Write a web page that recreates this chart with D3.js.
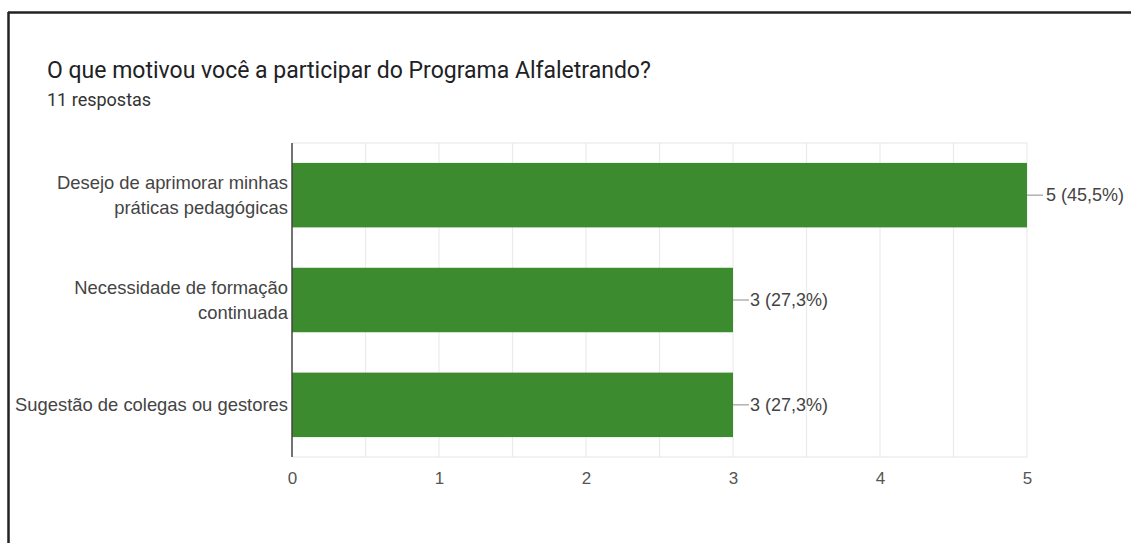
<!DOCTYPE html>
<html>
<head>
<meta charset="utf-8">
<script src="https://cdn.jsdelivr.net/npm/d3@7"></script>
<style>
  html, body { margin: 0; padding: 0; background: #fff; }
  svg { display: block; font-family: "Liberation Sans", Arial, sans-serif; }
</style>
</head>
<body>
<div id="chart"></div>
<script>
const title = 'O que motivou você a participar do Programa Alfaletrando?';
const subtitle = '11 respostas';
const categories = [
  ['Desejo de aprimorar minhas', 'práticas pedagógicas'],
  ['Necessidade de formação', 'continuada'],
  ['Sugestão de colegas ou gestores']
];
const counts = [5, 3, 3];
const valueLabels = ['5 (45,5%)', '3 (27,3%)', '3 (27,3%)'];
const xTicks = [0, 1, 2, 3, 4, 5];

const W = 1131, H = 543;
const margin = { top: 143, right: 104, bottom: 86, left: 292 };
const iw = W - margin.left - margin.right;
const ih = H - margin.top - margin.bottom;

const svg = d3.select('#chart').append('svg')
  .attr('width', W).attr('height', H);

// frame lines (screenshot border)
svg.append('line').attr('x1', 8).attr('x2', W).attr('y1', 12.5).attr('y2', 12.5)
  .attr('stroke', '#222').attr('stroke-width', 2.5);
svg.append('line').attr('x1', 8.5).attr('x2', 8.5).attr('y1', 12).attr('y2', H)
  .attr('stroke', '#222').attr('stroke-width', 2.5);

svg.append('text').attr('x', 47).attr('y', 78)
  .attr('font-family', 'Roboto, Arial, sans-serif')
  .attr('font-size', '23px').attr('fill', '#202124').text(title);
svg.append('text').attr('x', 47).attr('y', 106)
  .attr('font-family', 'Roboto, Arial, sans-serif')
  .attr('font-size', '18px').attr('fill', '#333').text(subtitle);

const x = d3.scaleLinear().domain([0, 5]).range([0, iw]);
const y = d3.scaleBand().domain(d3.range(categories.length)).range([0, ih])
  .paddingInner(0.385).paddingOuter(0.19);

const g = svg.append('g').attr('transform', `translate(${margin.left},${margin.top})`);

// grid
const gridVals = d3.range(0.5, 5.01, 0.5);
g.selectAll('.grid').data(gridVals).join('line')
  .attr('x1', d => x(d)).attr('x2', d => x(d))
  .attr('y1', 0).attr('y2', ih)
  .attr('stroke', '#ebebeb').attr('stroke-width', 1.2);
[0, ih].forEach(v => {
  g.append('line').attr('x1', 0).attr('x2', x(5)).attr('y1', v).attr('y2', v)
    .attr('stroke', '#e6e6e6').attr('stroke-width', 1.2);
});

// bars
g.selectAll('.bar').data(counts).join('rect')
  .attr('x', 0).attr('y', (d, i) => y(i))
  .attr('width', d => x(d)).attr('height', y.bandwidth())
  .attr('fill', '#3c8c2f');

// leader lines + value labels
counts.forEach((d, i) => {
  const cy = y(i) + y.bandwidth() / 2;
  g.append('line').attr('x1', x(d)).attr('x2', x(d) + 16)
    .attr('y1', cy).attr('y2', cy)
    .attr('stroke', '#9e9e9e').attr('stroke-width', 1.2);
  g.append('text').attr('x', x(d) + (d === 5 ? 19 : 17)).attr('y', cy)
    .attr('dominant-baseline', 'central')
    .attr('font-size', '18px').attr('fill', '#444')
    .text(valueLabels[i]);
});

// category labels
categories.forEach((lines, i) => {
  const cy = y(i) + y.bandwidth() / 2;
  const t = g.append('text').attr('x', -4).attr('text-anchor', 'end')
    .attr('font-size', '18.4px').attr('fill', '#444');
  lines.forEach((ln, j) => {
    t.append('tspan').attr('x', -4)
      .attr('y', cy + (j - (lines.length - 1) / 2) * 25)
      .attr('dominant-baseline', 'central')
      .text(ln);
  });
});

// left axis line
g.append('line').attr('x1', 0).attr('x2', 0).attr('y1', 0).attr('y2', ih)
  .attr('stroke', '#444').attr('stroke-width', 1.5);

// x axis
g.append('g').attr('transform', `translate(0,${ih})`)
  .call(d3.axisBottom(x).tickValues(xTicks).tickSize(0).tickPadding(15).tickFormat(d3.format('d')))
  .call(a => a.select('.domain').remove())
  .selectAll('text')
  .attr('font-size', '17px')
  .attr('font-family', '"Liberation Sans", Arial, sans-serif')
  .attr('fill', '#555');
</script>
</body>
</html>
